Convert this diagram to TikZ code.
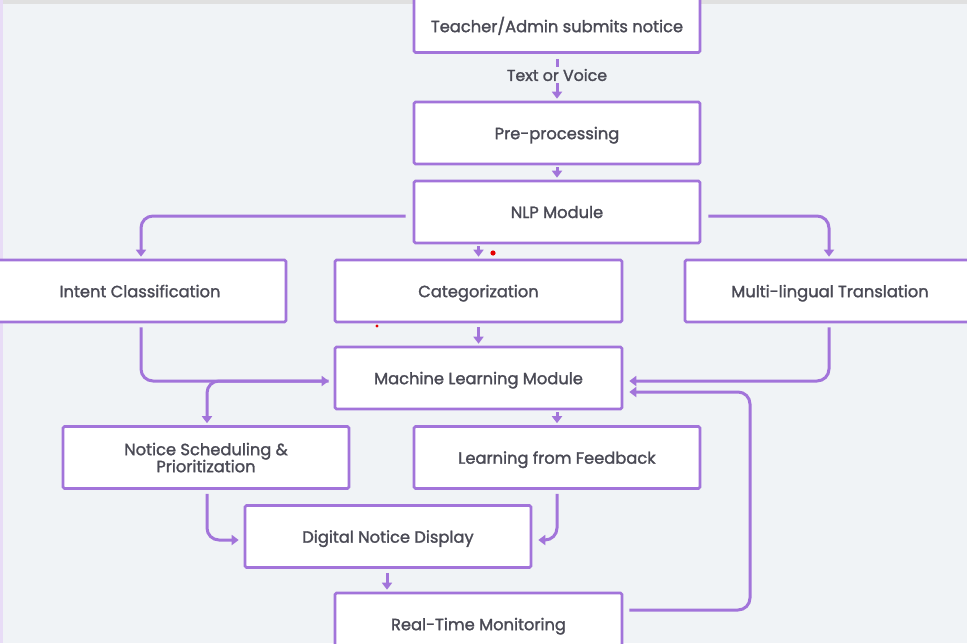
\documentclass[tikz,border=0pt]{standalone}
\usepackage{fontspec}
\setmainfont{Poppins}
\usetikzlibrary{arrows.meta}
\definecolor{bgc}{HTML}{F0F3F6}
\definecolor{pur}{HTML}{A274DA}
\definecolor{txt}{HTML}{4A4A55}
\tikzset{
  box/.style={draw=pur, line width=2.6pt, fill=white, rounded corners=1.5pt,
    minimum width=286pt, minimum height=62pt, inner sep=0pt, align=center,
    text depth=0pt,
    text=txt, font=\fontsize{16.3}{17}\selectfont\addfontfeatures{FakeBold=1.6}},
  conn/.style={draw=pur, line width=3pt, rounded corners=12pt},
  arr/.style={conn, -{Triangle[length=7pt,width=10pt]}, shorten >=2pt},
  lbl/.style={text=txt, font=\fontsize{15.8}{16}\selectfont\addfontfeatures{FakeBold=1.6}, inner sep=1pt}
}
\begin{document}
\begin{tikzpicture}[x=1pt,y=-1pt]
\useasboundingbox (0,0) rectangle (967,643);
\clip (0,0) rectangle (967,643);
\fill[bgc] (0,0) rectangle (967,643);
\fill[black!12] (0,0) rectangle (967,4);
\fill[pur!25] (0,0) rectangle (2.5,643);

\node[box, minimum height=56pt] (t) at (557,24.5) {Teacher/Admin submits notice};
\node[lbl] (lab) at (557,75) {Text or Voice};
\node[box] (pre) at (557,133) {Pre-processing};
\node[box] (nlp) at (557,212) {NLP Module};
\node[box, minimum width=292pt] (ic) at (140,291) {Intent Classification};
\node[box, minimum width=287pt] (cat) at (478.5,291) {Categorization};
\node[box, minimum width=290pt] (mlt) at (830,291) {Multi-lingual Translation};
\node[box, minimum width=287pt] (ml) at (478.5,378) {Machine Learning Module};
\node[box] (ns) at (206,457.5) {Notice Scheduling \&\\Prioritization};
\node[box] (lf) at (557,457.5) {Learning from Feedback};
\node[box] (dnd) at (388,536.5) {Digital Notice Display};
\node[box, minimum width=287pt] (rtm) at (478.5,624) {Real-Time Monitoring};

% connectors
\draw[conn] ([yshift=-5pt]t.south) -- ([yshift=1pt]lab.north);
\draw[arr] ([yshift=-1pt]lab.south) -- (pre.north);
\draw[arr] ([yshift=-2pt]pre.south) -- (nlp.north);
\draw[arr] ([xshift=-7pt,yshift=-4pt]nlp.west) -| ([xshift=1pt]ic.north);
\draw[arr] ([xshift=7pt,yshift=-4pt]nlp.east) -| ([xshift=-1pt]mlt.north);
\draw[arr] ([yshift=-2pt]nlp.south -| cat.north) -- (cat.north);
\draw[arr] ([xshift=1pt,yshift=-4pt]ic.south) |- ([xshift=-3pt,yshift=-3pt]ml.west);
\draw[arr] ([xshift=-1pt,yshift=-4pt]mlt.south) |- ([xshift=4pt,yshift=-3pt]ml.east);
\draw[arr] ([yshift=-4pt]cat.south) -- (ml.north);
\draw[arr] ([xshift=-5pt,yshift=-3pt]ml.west) -| ([xshift=1pt]ns.north);
\draw[arr] ([yshift=-2pt]ml.south -| lf.north) -- (lf.north);
\draw[arr] ([xshift=1pt,yshift=-4pt]ns.south) |- ([xshift=-3pt,yshift=-3.5pt]dnd.west);
\draw[arr] ([yshift=-4pt]lf.south) |- ([xshift=4pt,yshift=-3.5pt]dnd.east);
\draw[arr] ([xshift=-1pt,yshift=-4pt]dnd.south) -- ([xshift=-1pt]dnd.south |- rtm.north);
\coordinate (fb) at (750,610);
\draw[arr] ([xshift=6pt,yshift=14pt]rtm.east) -- (fb) |- ([xshift=4pt,yshift=-14pt]ml.east);

% stray marks
\fill[red!90!black] (493,253) circle (2.6pt);
\fill[red!90!black] (377,326) circle (1.6pt);
\end{tikzpicture}
\end{document}
